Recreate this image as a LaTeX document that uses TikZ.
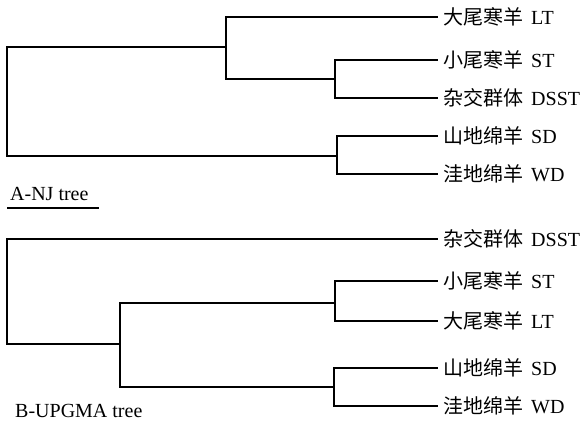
\documentclass[tikz,border=0pt]{standalone}
\usepackage{fontspec}
\setmainfont{Liberation Serif}
\newfontfamily\cjk{Noto Sans CJK SC}
\newcommand{\lab}[2]{{\cjk #1}\hspace{3pt} #2}
\begin{document}
\begin{tikzpicture}[x=1pt,y=-1pt,
  br/.style={line width=1.6pt, line cap=rect},
  lbl/.style={anchor=west, inner xsep=6pt, inner ysep=0pt, font=\fontsize{20}{24}\selectfont},
  ttl/.style={anchor=base west, inner sep=0pt, font=\fontsize{20}{24}\selectfont}]
\useasboundingbox (0,0) rectangle (583,420);
% ---------- Tree A (NJ) ----------
\coordinate (A0) at (7,101);
\coordinate (A1) at (226,47);
\coordinate (A2) at (335,79);
\coordinate (A3) at (337,156);
\node[lbl] (aLT)   at (437,17)  {\lab{大尾寒羊}{LT}};
\node[lbl] (aST)   at (437,60)  {\lab{小尾寒羊}{ST}};
\node[lbl] (aDSST) at (437,98)  {\lab{杂交群体}{DSST}};
\node[lbl] (aSD)   at (437,136) {\lab{山地绵羊}{SD}};
\node[lbl] (aWD)   at (437,174) {\lab{洼地绵羊}{WD}};
\draw[br] (A0) |- (A1);
\draw[br] (A0) |- (A3);
\draw[br] (A1) |- (aLT.west);
\draw[br] (A1) |- (A2);
\draw[br] (A2) |- (aST.west);
\draw[br] (A2) |- (aDSST.west);
\draw[br] (A3) |- (aSD.west);
\draw[br] (A3) |- (aWD.west);
\node[ttl] (tA) at (10,200) {A-NJ tree};
\draw[line width=1.1pt] ([xshift=-3pt,yshift=-8pt]tA.base west) -- ([xshift=10pt,yshift=-8pt]tA.base east);
% ---------- Tree B (UPGMA) ----------
\coordinate (B0) at (7,290);
\coordinate (B1) at (120,344);
\coordinate (B2) at (335,303);
\coordinate (B3) at (334,387);
\node[lbl] (bDSST) at (437,239) {\lab{杂交群体}{DSST}};
\node[lbl] (bST)   at (437,281) {\lab{小尾寒羊}{ST}};
\node[lbl] (bLT)   at (437,321) {\lab{大尾寒羊}{LT}};
\node[lbl] (bSD)   at (437,368) {\lab{山地绵羊}{SD}};
\node[lbl] (bWD)   at (437,406) {\lab{洼地绵羊}{WD}};
\draw[br] (B0) |- (bDSST.west);
\draw[br] (B0) |- (B1);
\draw[br] (B1) |- (B2);
\draw[br] (B1) |- (B3);
\draw[br] (B2) |- (bST.west);
\draw[br] (B2) |- (bLT.west);
\draw[br] (B3) |- (bSD.west);
\draw[br] (B3) |- (bWD.west);
\node[ttl] (tB) at (15,417) {B-UPGMA tree};
\end{tikzpicture}
\end{document}
